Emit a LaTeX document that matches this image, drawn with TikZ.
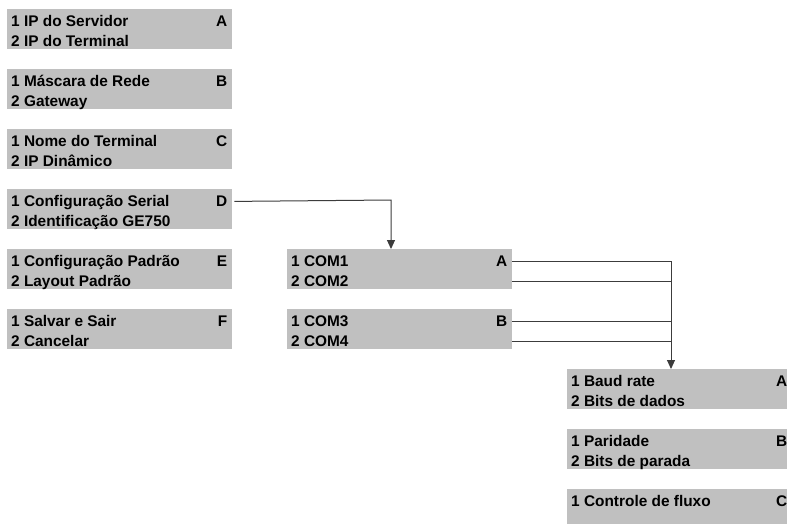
\documentclass[tikz,border=0pt]{standalone}
\usepackage{fontspec}
\setmainfont{Liberation Sans}
\usetikzlibrary{calc,arrows.meta}
\definecolor{boxgray}{RGB}{192,192,192}
\definecolor{linegray}{RGB}{60,60,60}
\newcommand\menufont{\fontsize{15.4}{20}\selectfont\bfseries}
\newcommand\menubx[7]{%
  \node[menubox] (#1) at (#2,-#3) {};
  \node[itemtxt] (#1-1) at ($(#1.north west)+(4,-17.7)$) {#5};
  \node[itemtxt] (#1-2) at ($(#1.north west)+(4,-37.7)$) {#6};
  \node[lettertxt] (#1-L) at ($(#1.north east)+(-5,-17.7)$) {#7};
}
\tikzset{
  menubox/.style={fill=boxgray, draw=none, inner sep=0pt, minimum width=225pt, minimum height=40pt, anchor=north west},
  itemtxt/.style={anchor=base west, inner sep=0pt, font=\menufont},
  lettertxt/.style={anchor=base east, inner sep=0pt, font=\menufont},
  conn/.style={draw=linegray, line width=1pt},
  arr/.style={conn, -{Triangle[width=8pt,length=9pt]}}
}
\begin{document}
\begin{tikzpicture}[x=1pt,y=1pt]
\clip (0,0) rectangle (787,-523);
\fill[white] (0,0) rectangle (787,-523);
% left column
\menubx{mA}{7}{9}{225}{1 IP do Servidor}{2 IP do Terminal}{A}
\menubx{mB}{7}{69}{225}{1 Máscara de Rede}{2 Gateway}{B}
\menubx{mC}{7}{129}{225}{1 Nome do Terminal}{2 IP Dinâmico}{C}
\menubx{mD}{7}{189}{225}{1 Configuração Serial}{2 Identificação GE750}{D}
\menubx{mE}{7}{249}{225}{1 Configuração Padrão}{2 Layout Padrão}{E}
\menubx{mF}{7}{309}{225}{1 Salvar e Sair}{2 Cancelar}{F}
% COM column
\menubx{cA}{287}{249}{225}{1 COM1}{2 COM2}{A}
\menubx{cB}{287}{309}{225}{1 COM3}{2 COM4}{B}
% serial parameters column
\menubx{sA}{567}{369}{225}{1 Baud rate}{2 Bits de dados}{A}
\menubx{sB}{567}{429}{225}{1 Paridade}{2 Bits de parada}{B}
\menubx{sC}{567}{489}{225}{1 Controle de fluxo}{}{C}
% connectors
\coordinate (dturn) at (391,-200);
\coordinate (bus) at (671,-260);
\draw[arr] ($(mD.east |- mD-L.center)+(2,0)$) -- (dturn) -- (dturn |- cA.north);
\draw[conn] (cA.east |- cA-L.center) -- (bus |- cA-L.center);
\draw[conn] (cA.east |- cA-2.center) -- (bus |- cA-2.center);
\draw[conn] (cB.east |- cB-L.center) -- (bus |- cB-L.center);
\draw[conn] (cB.east |- cB-2.center) -- (bus |- cB-2.center);
\draw[arr] (bus |- cA-L.center) -- (bus |- sA.north);
\end{tikzpicture}
\end{document}
